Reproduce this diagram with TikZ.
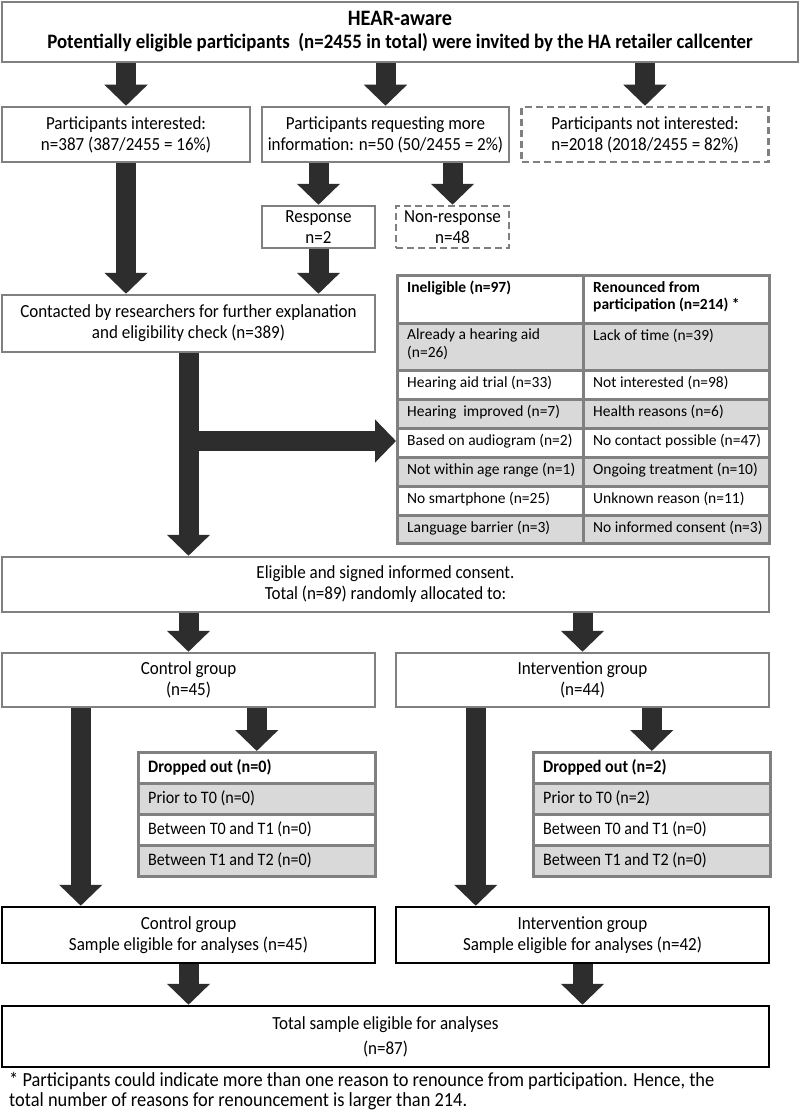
\documentclass[tikz,border=0pt]{standalone}
\usepackage{fontspec}
\setmainfont{Carlito}[FakeStretch=0.92]
\newfontfamily\tablefont{Carlito}
\usetikzlibrary{arrows.meta}

\definecolor{framegray}{RGB}{128,128,128}
\definecolor{cellgray}{RGB}{217,217,217}
\definecolor{arrowfill}{RGB}{45,45,45}

\begin{document}
\begin{tikzpicture}[x=1pt,y=-1pt]
    \tikzset{box/.style={rectangle, draw=framegray, line width=2.5pt, fill=white, align=center, inner sep=0pt, font=\fontsize{18.5}{21}\selectfont},
        dashbox/.style={box, dash pattern=on 7pt off 4pt},
        finalbox/.style={box, draw=black},
        cell/.style={rectangle, draw=framegray, line width=2.5pt, anchor=north west, inner sep=0pt},
        celltext/.style={anchor=north west, align=left, inner sep=0pt},
        fat/.style={draw=arrowfill, line width=20pt, -{Triangle[width=42pt,length=21pt]}}};
    \useasboundingbox[fill=white] (0,0) rectangle (800,1113);

    % recruitment
    \node[box, minimum width=796pt, minimum height=60pt] (invite) at (400,32)
        {\textbf{\fontsize{22}{24}\selectfont HEAR-aware}\\[2pt]\textbf{\fontsize{20.5}{24}\selectfont Potentially eligible participants \ (n=2455 in total) were invited by the HA retailer callcenter}};
    \node[box, minimum width=248pt, minimum height=55pt] (interested) at (126,134.5) {Participants interested:\\n=387 (387/2455 = 16\%)};
    \node[box, minimum width=247pt, minimum height=55pt] (moreinfo) at (385.5,134.5) {Participants requesting more\\information: n=50 (50/2455 = 2\%)};
    \node[dashbox, minimum width=247pt, minimum height=55pt] (notint) at (645,134.5) {Participants not interested:\\n=2018 (2018/2455 = 82\%)};
    \node[box, minimum width=113pt, minimum height=42pt] (response) at (318.5,227) {Response\\n=2};
    \node[dashbox, minimum width=113pt, minimum height=42pt] (nonresp) at (452.5,227) {Non-response\\n=48};
    \node[box, minimum width=373pt, minimum height=57pt] (contact) at (188.5,323.5) {Contacted by researchers for further explanation\\and eligibility check (n=389)};

    % exclusion table
    \foreach \y/\h/\fc/\a/\b [count=\i] in {
        274/48/white/{\textbf{Ineligible (n=97)}}/{\textbf{Renounced from}\\\textbf{participation (n=214) *}},
        322/47/cellgray/{Already a hearing aid\\(n=26)}/{Lack of time (n=39)},
        369/29/white/{Hearing aid trial (n=33)}/{Not interested (n=98)},
        398/29/cellgray/{Hearing \ improved (n=7)}/{Health reasons (n=6)},
        427/29/white/{Based on audiogram (n=2)}/{No contact possible (n=47)},
        456/29/cellgray/{Not within age range (n=1)}/{Ongoing treatment (n=10)},
        485/29/white/{No smartphone (n=25)}/{Unknown reason (n=11)},
        514/28/cellgray/{Language barrier (n=3)}/{No informed consent (n=3)}}{
        \node[cell, fill=\fc, minimum width=186pt, minimum height=\h pt] (inel\i) at (396,\y) {};
        \node[cell, fill=\fc, minimum width=186pt, minimum height=\h pt] (ren\i) at (582,\y) {};
        \node[celltext, font=\tablefont\fontsize{15.5}{17.5}\selectfont] (inelt\i) at ([shift={(11pt,-7pt)}]inel\i.north west) {\a};
        \node[celltext, font=\tablefont\fontsize{15.5}{17.5}\selectfont] (rent\i) at ([shift={(11pt,-7pt)}]ren\i.north west) {\b};
    }

    % allocation
    \node[box, minimum width=767pt, minimum height=55pt] (eligible) at (385.5,584.5) {Eligible and signed informed consent.\\Total (n=89) randomly allocated to:};
    \node[box, minimum width=373pt, minimum height=54pt] (control) at (188.5,680) {Control group\\(n=45)};
    \node[box, minimum width=373pt, minimum height=54pt] (interv) at (582.5,680) {Intervention group\\(n=44)};

    % drop-out tables
    \foreach \g/\x/\n in {cdrop/137/0, idrop/532/2}{
        \foreach \y/\fc/\t [count=\i] in {751/white/{\textbf{Dropped out (n=\n)}}, 782/cellgray/{Prior to T0 (n=\n)}, 813/white/{Between T0 and T1 (n=0)}, 844/cellgray/{Between T1 and T2 (n=0)}}{
            \node[cell, fill=\fc, minimum width=237pt, minimum height=31pt] (\g\i) at (\x,\y) {};
            \node[celltext, anchor=west, font=\fontsize{17.5}{20}\selectfont] (\g t\i) at ([xshift=11pt]\g\i.west) {\t};
        }
    }

    % analyses
    \node[finalbox, minimum width=373pt, minimum height=56pt] (controlS) at (188.5,935) {Control group\\Sample eligible for analyses (n=45)};
    \node[finalbox, minimum width=373pt, minimum height=56pt] (intervS) at (582.5,935) {Intervention group\\Sample eligible for analyses (n=42)};
    \node[finalbox, minimum width=767pt, minimum height=61pt] (total) at (385.5,1036.5) {Total sample eligible for analyses\\[4pt](n=87)};
    \node[anchor=north west, align=left, inner sep=0pt, font=\fontsize{20}{20.5}\selectfont] (note) at (9,1072)
        {* Participants could indicate more than one reason to renounce from participation. Hence, the\\total number of reasons for renouncement is larger than 214.};

    % arrows
    \draw[fat] (invite.south -| interested.north) -- (interested.north);
    \draw[fat] (invite.south -| moreinfo.north) -- (moreinfo.north);
    \draw[fat] (invite.south -| notint.north) -- (notint.north);
    \draw[fat] (moreinfo.south -| response.north) -- (response.north);
    \draw[fat] (moreinfo.south -| nonresp.north) -- (nonresp.north);
    \draw[fat] (interested.south) -- (interested.south |- contact.north);
    \draw[fat] (response.south) -- (response.south |- contact.north);
    \coordinate (branch) at (188.5,441);
    \draw[fat] (contact.south) -- (contact.south |- eligible.north);
    \draw[fat] (branch) -- (branch -| inel1.west);
    \draw[fat] (eligible.south -| control.north) -- (control.north);
    \draw[fat] (eligible.south -| interv.north) -- (interv.north);
    \draw[fat] (control.south -| cdrop1.north) -- (cdrop1.north);
    \draw[fat] (interv.south -| idrop1.north) -- (idrop1.north);
    \draw[fat] ([xshift=80pt]control.south west) -- ([xshift=80pt]controlS.north west);
    \draw[fat] ([xshift=81pt]interv.south west) -- ([xshift=81pt]intervS.north west);
    \draw[fat] (controlS.south) -- (controlS.south |- total.north);
    \draw[fat] (intervS.south) -- (intervS.south |- total.north);
\end{tikzpicture}
\end{document}
